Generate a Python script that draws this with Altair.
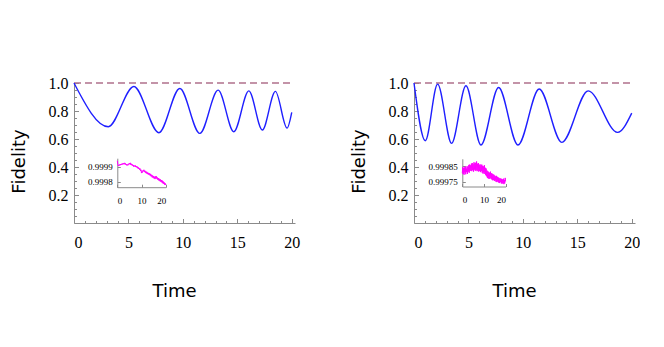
import altair as alt
import pandas as pd

# ---------------- data ----------------
# main curves: extrema of the oscillating fidelity
time_left = [0, 3.15, 5.5, 7.8, 9.72, 11.56, 13.24, 14.68, 16.06, 17.3, 18.5, 19.57, 20]
fid_left = [1.0, 0.688, 0.975, 0.645, 0.961, 0.640, 0.949, 0.652, 0.944, 0.664, 0.940, 0.678, 0.79]

time_right = [0, 1.04, 2.17, 3.45, 4.77, 6.15, 7.77, 9.55, 11.5, 13.58, 16.0, 18.7, 20]
fid_right = [1.0, 0.588, 0.992, 0.569, 0.980, 0.557, 0.968, 0.557, 0.957, 0.576, 0.944, 0.647, 0.785]

# insets (noisy fidelity close to 1)
inset_time = [round(0.2 * i, 1) for i in range(101)]
inset_left = [
    0.999940, 0.999918, 0.999905, 0.999912, 0.999908, 0.999916, 0.999910, 0.999918, 0.999912, 0.999920,
    0.999914, 0.999922, 0.999916, 0.999924, 0.999918, 0.999926, 0.999915, 0.999922, 0.999912, 0.999918,
    0.999908, 0.999915, 0.999910, 0.999920, 0.999914, 0.999924, 0.999918, 0.999926, 0.999912, 0.999920,
    0.999910, 0.999916, 0.999906, 0.999912, 0.999900, 0.999908, 0.999902, 0.999910, 0.999898, 0.999905,
    0.999896, 0.999902, 0.999890, 0.999898, 0.999886, 0.999892, 0.999880, 0.999888, 0.999872, 0.999880,
    0.999858, 0.999868, 0.999862, 0.999876, 0.999870, 0.999880, 0.999866, 0.999874, 0.999860, 0.999870,
    0.999856, 0.999866, 0.999852, 0.999862, 0.999848, 0.999858, 0.999846, 0.999856, 0.999840, 0.999852,
    0.999836, 0.999846, 0.999830, 0.999842, 0.999826, 0.999838, 0.999822, 0.999834, 0.999818, 0.999836,
    0.999824, 0.999836, 0.999818, 0.999828, 0.999812, 0.999824, 0.999808, 0.999820, 0.999804, 0.999816,
    0.999800, 0.999812, 0.999796, 0.999808, 0.999790, 0.999802, 0.999786, 0.999796, 0.999780, 0.999790,
    0.999778,
]
inset_right = [
    0.999805, 0.999845, 0.999800, 0.999838, 0.999795, 0.999842, 0.999810, 0.999848, 0.999798, 0.999835,
    0.999812, 0.999850, 0.999800, 0.999845, 0.999815, 0.999858, 0.999808, 0.999860, 0.999820, 0.999855,
    0.999822, 0.999866, 0.999818, 0.999870, 0.999825, 0.999862, 0.999815, 0.999875, 0.999828, 0.999868,
    0.999820, 0.999872, 0.999826, 0.999880, 0.999818, 0.999865, 0.999822, 0.999870, 0.999815, 0.999858,
    0.999820, 0.999862, 0.999812, 0.999855, 0.999818, 0.999860, 0.999808, 0.999852, 0.999802, 0.999848,
    0.999810, 0.999856, 0.999800, 0.999840, 0.999792, 0.999835, 0.999785, 0.999822, 0.999775, 0.999818,
    0.999772, 0.999812, 0.999768, 0.999808, 0.999775, 0.999815, 0.999770, 0.999805, 0.999765, 0.999802,
    0.999760, 0.999798, 0.999762, 0.999795, 0.999755, 0.999790, 0.999758, 0.999785, 0.999750, 0.999788,
    0.999748, 0.999782, 0.999752, 0.999778, 0.999745, 0.999775, 0.999742, 0.999770, 0.999748, 0.999772,
    0.999740, 0.999768, 0.999738, 0.999765, 0.999742, 0.999770, 0.999735, 0.999762, 0.999740, 0.999775,
    0.999752,
]

x_major = [0, 5, 10, 15, 20]
x_minor = [0, 1, 2, 3, 4, 5, 6, 7, 8, 9, 10, 11, 12, 13, 14, 15, 16, 17, 18, 19, 20]
y_major = [0.2, 0.4, 0.6, 0.8, 1.0]
y_minor = [0.05, 0.1, 0.15, 0.2, 0.25, 0.3, 0.35, 0.4, 0.45, 0.5,
           0.55, 0.6, 0.65, 0.7, 0.75, 0.8, 0.85, 0.9, 0.95, 1.0]
inset_x_ticks = [0, 10, 20]
inset_left_yticks = [0.9998, 0.9999]
inset_right_yticks = [0.99975, 0.99985]
inset_left_domain = [0.999764, 0.999957]
inset_right_domain = [0.999720, 0.999897]
ref_level = [1.0]

# ---------------- styling ----------------
W, H = 221, 140
GRAY = "#8a8a8a"
BLUE = "#1f1fff"
DASH = "#b0708c"
MAGENTA = "#ff00ff"
SERIF = "Liberation Serif"
SANS = "DejaVu Sans"


def panel(t, f, iv, xr, yr, ydom, yticks, fmt):
    main_df = pd.DataFrame({"t": t, "f": f})
    ref_df = pd.DataFrame({"t0": [0], "t1": [20], "f": ref_level})
    xs = alt.Scale(domain=[0, 20.3], nice=False, zero=False)
    ys = alt.Scale(domain=[0, 1], nice=False, zero=False)

    rule = alt.Chart(ref_df).mark_rule(color=DASH, strokeDash=[7, 4], strokeWidth=1.5).encode(
        x=alt.X("t0:Q", scale=xs, axis=alt.Axis(
            orient="bottom", values=x_major, ticks=False, tickSize=0, labelPadding=11,
            labelFont=SERIF, labelFontSize=16, labelColor="black", domainColor=GRAY,
            title="Time", titleFont=SANS, titleFontSize=18, titleFontWeight="normal",
            titleX=100, titleY=73, titleBaseline="alphabetic", titleAlign="center")),
        x2="t1:Q",
        y=alt.Y("f:Q", scale=ys, axis=alt.Axis(
            orient="left", values=y_major, format=".1f", ticks=False, tickSize=0, labelPadding=6,
            labelFont=SERIF, labelFontSize=16, labelColor="black", domainColor=GRAY,
            title="Fidelity", titleFont=SANS, titleFontSize=18, titleFontWeight="normal",
            titleX=-55, titleY=78, titleBaseline="middle", titleAlign="center", titleAngle=270)),
    )
    line = alt.Chart(main_df).mark_line(color=BLUE, strokeWidth=1.4, interpolate="monotone").encode(
        x=alt.X("t:Q", scale=xs, axis=alt.Axis(
            orient="top", offset=-H, values=x_minor, labels=False, domain=False, tickColor=GRAY,
            tickSize={"condition": {"test": "datum.value % 5 === 0", "value": 4.5}, "value": 2.5},
            title=None)),
        y=alt.Y("f:Q", scale=ys, axis=alt.Axis(
            orient="right", offset=-W, values=y_minor, labels=False, domain=False, tickColor=GRAY,
            tickSize={"condition": {"test": "abs(datum.value*5 - round(datum.value*5)) < 0.001", "value": 4.5},
                      "value": 2.5},
            title=None)),
    )
    main = alt.layer(rule, line).resolve_axis(x="independent", y="independent")

    idf = pd.DataFrame({"t": inset_time, "v": iv})
    ixs = alt.Scale(domain=[0, 20], range=xr, nice=False, zero=False)
    iys = alt.Scale(domain=ydom, range=yr, nice=False, zero=False)
    inset_a = alt.Chart(idf).mark_line(color=MAGENTA, strokeWidth=1).encode(
        x=alt.X("t:Q", scale=ixs, axis=alt.Axis(
            orient="bottom", offset=-(H - yr[0]), values=inset_x_ticks, ticks=False, tickSize=0,
            labelPadding=9, labelFont=SERIF, labelFontSize=9, labelColor="black", domainColor=GRAY,
            title=None)),
        y=alt.Y("v:Q", scale=iys, axis=alt.Axis(
            orient="left", offset=-xr[0], values=yticks, format=fmt, ticks=False, tickSize=0,
            labelPadding=5, labelFont=SERIF, labelFontSize=9, labelColor="black", domainColor=GRAY,
            title=None)),
    )
    inset_b = alt.Chart(idf).mark_line(opacity=0).encode(
        x=alt.X("t:Q", scale=ixs, axis=alt.Axis(
            orient="top", offset=-yr[0], values=inset_x_ticks, labels=False, domain=False,
            tickColor=GRAY, tickSize=3, title=None)),
        y=alt.Y("v:Q", scale=iys, axis=alt.Axis(
            orient="right", offset=-(W - xr[0]), values=yticks, labels=False, domain=False,
            tickColor=GRAY, tickSize=3, title=None)),
    )
    inset = alt.layer(inset_a, inset_b).resolve_axis(x="independent", y="independent")

    return alt.layer(main, inset).resolve_scale(x="independent", y="independent").properties(
        width=W, height=H)


left = panel(time_left, fid_left, inset_left, [43.3, 91.7], [104.2, 75.2],
             inset_left_domain, inset_left_yticks, ".4f")
right = panel(time_right, fid_right, inset_right, [48.3, 91.6], [103.5, 75.8],
              inset_right_domain, inset_right_yticks, ".5f")

chart = alt.hconcat(left, right, spacing=50).properties(
    padding={"left": 2, "top": 67, "right": 0, "bottom": 0}
).configure_axis(grid=False).configure_view(stroke=None)

chart.save("out.html", embed_options={"renderer": "svg", "actions": False})
